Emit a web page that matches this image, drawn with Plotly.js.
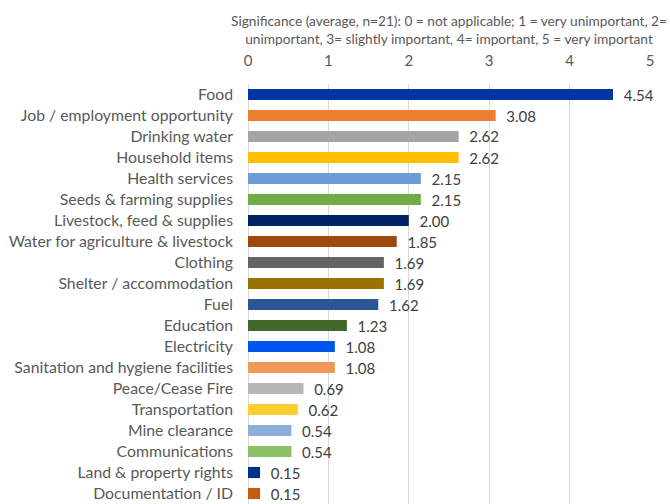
<!DOCTYPE html>
<html><head><meta charset="utf-8">
<script src="https://cdn.plot.ly/plotly-3.0.1.min.js"></script>
<style>html,body{margin:0;padding:0;background:#fff}#c{width:670px;height:504px}</style>
</head><body><div id="c"></div>
<script>
const categories = ["Food","Job / employment opportunity","Drinking water","Household items","Health services","Seeds & farming supplies","Livestock, feed & supplies","Water for agriculture & livestock","Clothing","Shelter / accommodation","Fuel","Education","Electricity","Sanitation and hygiene facilities","Peace/Cease Fire","Transportation","Mine clearance","Communications","Land & property rights","Documentation / ID"];
const values = [4.54,3.08,2.62,2.62,2.15,2.15,2.00,1.85,1.69,1.69,1.62,1.23,1.08,1.08,0.69,0.62,0.54,0.54,0.15,0.15];
const barColors = ["#0036A3","#ED7D31","#A5A5A5","#FFC000","#6F9BD5","#70AD47","#002366","#9E480E","#636363","#997300","#2B5597","#43682B","#0055EE","#F1975A","#B7B7B7","#FFCD33","#8CADDE","#8CC168","#00308A","#C55A11"];
const tickVals = [0,1,2,3,4,5];
const axisTitle = "Significance (average, n=21): 0 = not applicable; 1 = very unimportant, 2=<br>unimportant, 3= slightly important, 4= important, 5 = very important";

const font = "Lato, sans-serif";
Plotly.newPlot('c', [{
  type: 'bar', orientation: 'h',
  y: categories, x: values,
  marker: {color: barColors},
  texttemplate: '\u00a0\u00a0%{x:.2f}', textposition: 'outside', cliponaxis: false,
  constraintext: 'none',
  textfont: {family: font, size: 15, color: '#404040'},
  hoverinfo: 'none'
}], {
  width: 670, height: 504,
  margin: {l: 248, r: 20, t: 84, b: 0, pad: 0},
  paper_bgcolor: '#fff', plot_bgcolor: '#fff',
  bargap: 0.47,
  showlegend: false,
  xaxis: {
    side: 'top', range: [0, 5], tickvals: tickVals, ticktext: tickVals.map(String),
    showgrid: true, gridcolor: '#D9D9D9', gridwidth: 1,
    zeroline: true, zerolinecolor: '#D9D9D9', zerolinewidth: 1,
    showline: false, ticks: '',
    ticklabelstandoff: 14,
    tickfont: {family: font, size: 15, color: '#595959'},
    title: {text: axisTitle, font: {family: font, size: 13.7, color: '#595959'}, standoff: 3}
  },
  yaxis: {
    autorange: 'reversed', type: 'category',
    showgrid: false, zeroline: false, showline: false, ticks: '',
    ticklabelstandoff: 14,
    tickfont: {family: font, size: 15.8, color: '#595959'}
  }
}, {displayModeBar: false, staticPlot: true});
</script></body></html>
